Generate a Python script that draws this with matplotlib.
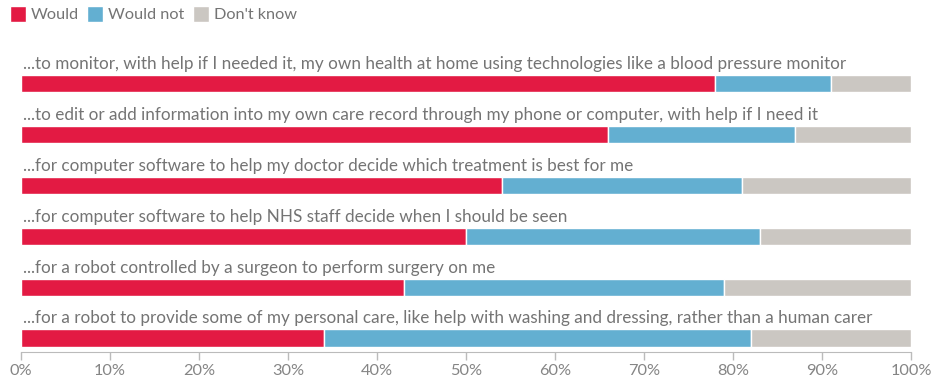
import matplotlib
matplotlib.use("Agg")
import matplotlib.pyplot as plt
from matplotlib.patches import Patch
import numpy as np

statements = [
    "...to monitor, with help if I needed it, my own health at home using technologies like a blood pressure monitor",
    "...to edit or add information into my own care record through my phone or computer, with help if I need it",
    "...for computer software to help my doctor decide which treatment is best for me",
    "...for computer software to help NHS staff decide when I should be seen",
    "...for a robot controlled by a surgeon to perform surgery on me",
    "...for a robot to provide some of my personal care, like help with washing and dressing, rather than a human carer",
]
would = [78, 66, 54, 50, 43, 34]
would_not = [13, 21, 27, 33, 36, 48]
dont_know = [9, 13, 19, 17, 21, 18]
series_names = ["Would", "Would not", "Don't know"]
colors = ["#E31A43", "#63AFD1", "#CBC7C2"]
tick_values = [0, 10, 20, 30, 40, 50, 60, 70, 80, 90, 100]

plt.rcParams["font.family"] = ["Lato", "DejaVu Sans"]

fig = plt.figure(figsize=(9.31, 3.8), dpi=100)
ax = fig.add_axes([21 / 931, 28 / 380, 890 / 931, 302 / 380])

y = np.arange(len(statements))
bar_h = 0.335
left = np.zeros(len(statements))
for vals, col in zip([would, would_not, dont_know], colors):
    ax.barh(y, vals, left=left, height=bar_h, color=col,
            edgecolor="white", linewidth=1.0)
    left += np.array(vals)

for i, s in enumerate(statements):
    ax.text(0.2, i - bar_h / 2 - 0.06, s, ha="left", va="bottom",
            fontsize=12.35, color="#747474")

ax.set_xlim(0, 100)
ax.set_ylim(len(statements) - 1 + 0.275, -0.66)
ax.set_xticks(tick_values)
ax.set_xticklabels([f"{v}%" for v in tick_values])
ax.set_yticks([])
for side in ["top", "right", "left"]:
    ax.spines[side].set_visible(False)
ax.spines["bottom"].set_color("#BBBBBB")
ax.tick_params(axis="x", colors="#BBBBBB", length=6, width=1,
               labelcolor="#858585", labelsize=11.8, pad=2.5)

handles = [Patch(facecolor=c, edgecolor="white", label=n)
           for n, c in zip(series_names, colors)]
fig.legend(handles=handles, loc="upper left", bbox_to_anchor=(0.0, 1.01),
           ncol=3, frameon=False, fontsize=11.7, handlelength=1.0,
           handleheight=1.1, handletextpad=0.3, columnspacing=0.5,
           borderaxespad=0.2, labelcolor="#747474")

fig.savefig("out.png", dpi=100, facecolor="white")
